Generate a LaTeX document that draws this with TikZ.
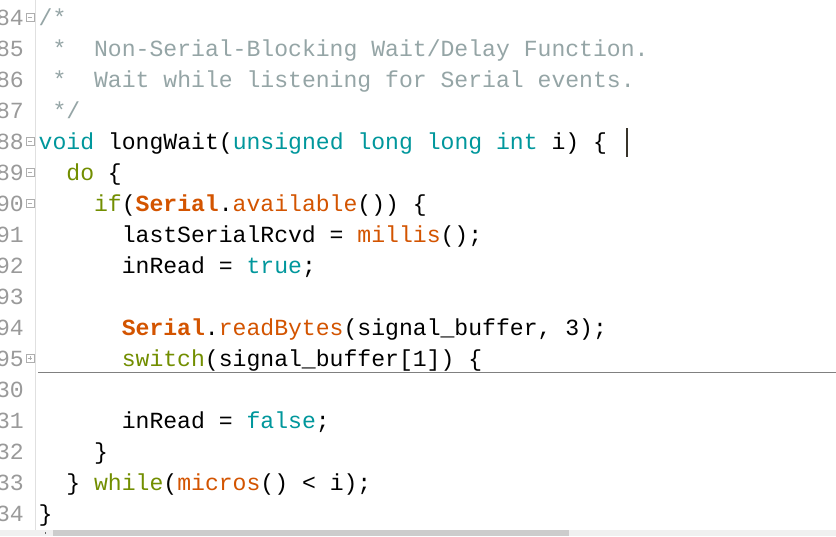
\documentclass[tikz,border=0pt]{standalone}
\usepackage{fontspec}
\usepackage{tikz}
\usetikzlibrary{calc}
\newfontfamily\codefont{Liberation Mono}
\definecolor{kwteal}{HTML}{00979C}
\definecolor{fnorange}{HTML}{D35400}
\definecolor{ctlolive}{HTML}{728E00}
\definecolor{cmtgrey}{HTML}{95A5A6}
\definecolor{numgrey}{HTML}{9A9A9A}
\newcommand{\kw}[1]{\textcolor{kwteal}{#1}}
\newcommand{\fn}[1]{\textcolor{fnorange}{#1}}
\newcommand{\ctl}[1]{\textcolor{ctlolive}{#1}}
\newcommand{\srl}[1]{\textcolor{fnorange}{\bfseries #1}}
\tikzset{
  codeline/.style={anchor=base west, inner sep=0pt, font=\codefont\fontsize{23.1pt}{23.1pt}\selectfont},
  linenum/.style={anchor=base east, inner sep=0pt, text=numgrey, font=\codefont\fontsize{23.1pt}{23.1pt}\selectfont},
  foldbox/.style={draw=numgrey!80, line width=0.8pt, fill=white}
}
\def\foldminus(#1){\draw[foldbox] ($(30,#1)+(-4,-4)$) rectangle ($(30,#1)+(4,4)$); \draw[numgrey!80, line width=0.8pt] ($(30,#1)+(-2.2,0)$) -- ($(30,#1)+(2.2,0)$);}
\def\foldplus(#1){\foldminus(#1) \draw[numgrey!80, line width=0.8pt] ($(30,#1)+(0,-2.2)$) -- ($(30,#1)+(0,2.2)$);}
\begin{document}
\begin{tikzpicture}[x=1pt, y=-1pt]
			%%%%% START %%%%%
			\useasboundingbox (0,0) rectangle (836,536);
			\clip (0,0) rectangle (836,536);
			\fill[white] (0,0) rectangle (836,536);
			
			% gutter
			\draw[black!12, line width=1pt] (35.5,0) -- (35.5,530);
			
			\node[linenum] (n384) at (24,25) {384};
			\node[linenum] (n385) at (24,56) {385};
			\node[linenum] (n386) at (24,87) {386};
			\node[linenum] (n387) at (24,118) {387};
			\node[linenum] (n388) at (24,149) {388};
			\node[linenum] (n389) at (24,180) {389};
			\node[linenum] (n390) at (24,211) {390};
			\node[linenum] (n391) at (24,242) {391};
			\node[linenum] (n392) at (24,273) {392};
			\node[linenum] (n393) at (24,304) {393};
			\node[linenum] (n394) at (24,335) {394};
			\node[linenum] (n395) at (24,366) {395};
			\node[linenum] (n430) at (24,397) {430};
			\node[linenum] (n431) at (24,428) {431};
			\node[linenum] (n432) at (24,459) {432};
			\node[linenum] (n433) at (24,490) {433};
			\node[linenum] (n434) at (24,521) {434};
			
			\foldminus(17)
			\foldminus(141)
			\foldminus(172)
			\foldminus(203)
			\foldplus(358)
			
			% code
			\node[codeline, text=cmtgrey] (c0) at (38.5,25) {/*};
			\node[codeline, text=cmtgrey] (c1) at (52.35,56) {*~~Non-Serial-Blocking Wait/Delay Function.};
			\node[codeline, text=cmtgrey] (c2) at (52.35,87) {*~~Wait while listening for Serial events.};
			\node[codeline, text=cmtgrey] (c3) at (52.35,118) {*/};
			\node[codeline] (c4) at (38.5,149) {\kw{void} longWait(\kw{unsigned long long int} i) \{};
			\node[codeline] (c5) at (66.2,180) {\ctl{do} \{};
			\node[codeline] (c6) at (93.9,211) {\ctl{if}(\srl{Serial}.\fn{available}()) \{};
			\node[codeline] (c7) at (121.6,242) {lastSerialRcvd = \fn{millis}();};
			\node[codeline] (c8) at (121.6,273) {inRead = \kw{true};};
			\node[codeline] (c10) at (121.6,335) {\srl{Serial}.\fn{readBytes}(signal\_buffer, 3);};
			\node[codeline] (c11) at (121.6,366) {\ctl{switch}(signal\_buffer[1]) \{};
			\node[codeline] (c13) at (121.6,428) {inRead = \kw{false};};
			\node[codeline] (c14) at (93.9,459) {\}};
			\node[codeline] (c15) at (66.2,490) {\} \ctl{while}(\fn{micros}() < i);};
			\node[codeline] (c16) at (38.5,521) {\}};
			
			% folded region
			\draw[black!50, line width=1pt] (38,372.5) -- (836,372.5);
			
			% caret
			\fill[black!80!olive] (626,128) rectangle (628,157);
			
			% scrollbar
			\fill[black!6] (0,530) rectangle (836,536);
			\fill[black!20] (53,530) rectangle (569,536);
			\fill[black!60] (44.5,532) rectangle (45.5,533.5);
			
			%%%%% END %%%%%
\end{tikzpicture}
\end{document}
